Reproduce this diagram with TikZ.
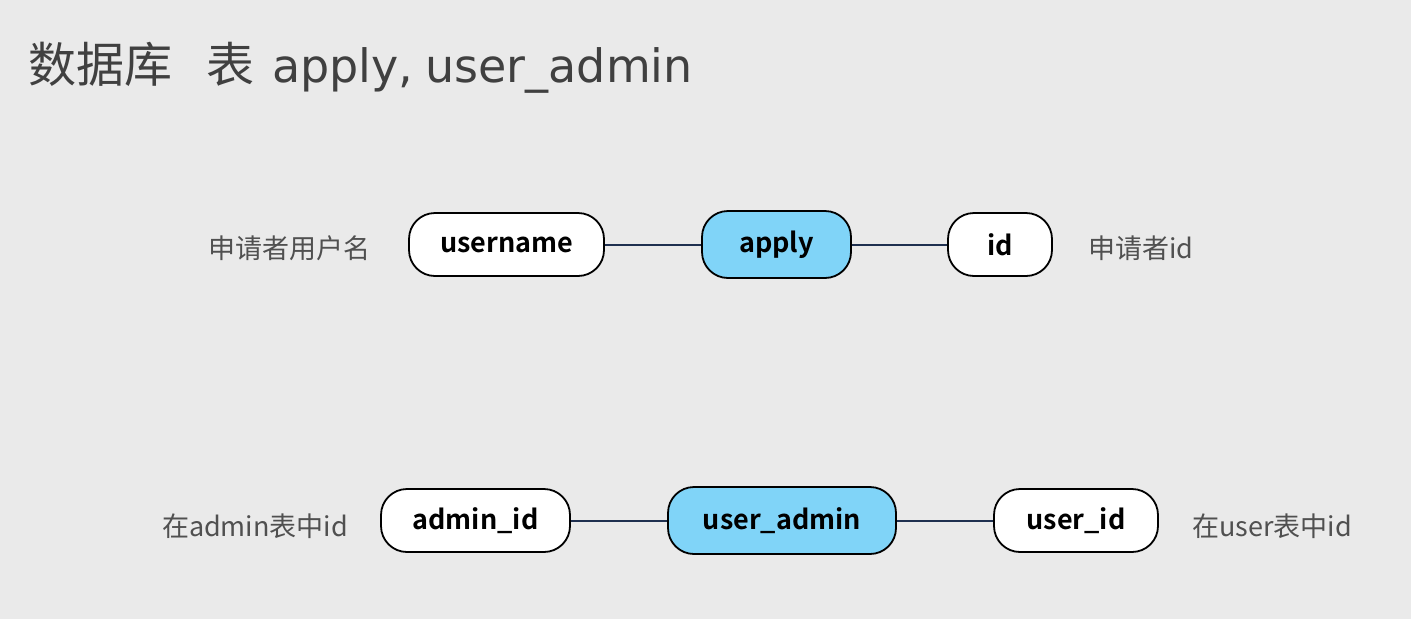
\documentclass[tikz,border=0pt]{standalone}
\usepackage{fontspec}
\setmainfont{Noto Sans CJK SC}
\newfontfamily\nodefont{Noto Sans CJK SC Bold}
\newfontfamily\latinfont{DejaVu Sans}
\definecolor{bg}{HTML}{EAEAEA}
\definecolor{titlec}{HTML}{404040}
\definecolor{labelc}{HTML}{505050}
\definecolor{linkc}{HTML}{1F3050}
\definecolor{hub}{HTML}{80D4F8}
\begin{document}
\begin{tikzpicture}[x=1pt,y=1pt,
  attr/.style={draw=black, line width=1.8pt, fill=white, rounded corners=26pt,
    inner sep=0pt, font=\nodefont\fontsize{27}{30}\selectfont, text=black},
  hubbox/.style={attr, fill=hub},
  note/.style={font=\fontsize{27}{30}\selectfont, text=labelc, inner sep=0pt},
  link/.style={draw=linkc, line width=2pt}]
\fill[bg] (0,0) rectangle (1411,-619);
\useasboundingbox (0,0) rectangle (1411,-619);
\node[anchor=base west, text=titlec, inner sep=0pt] (title) at (28,-82)
  {\fontsize{48}{52}\selectfont 数据库\hspace{34pt}表\hspace{18pt}{\latinfont\fontsize{46}{50}\selectfont apply,\hspace{12pt}user\_admin}};
% row 1
\node[attr, minimum width=195pt, minimum height=63pt] (username) at (506.5,-244.5) {username};
\node[hubbox, minimum width=149pt, minimum height=67pt] (apply) at (776.5,-244.5) {apply};
\node[attr, minimum width=104pt, minimum height=63pt] (id) at (1000,-244.5) {id};
\draw[link] (username) -- (apply);
\draw[link] (apply) -- (id);
\node[note] (n1) at (289,-248) {申请者用户名};
\node[note] (n2) at (1141,-248) {申请者id};
% row 2
\node[attr, minimum width=189pt, minimum height=63pt] (adminid) at (475.5,-520.5) {admin\_id};
\node[hubbox, minimum width=228pt, minimum height=67pt] (useradmin) at (782,-520.5) {user\_admin};
\node[attr, minimum width=164pt, minimum height=63pt] (userid) at (1076,-520.5) {user\_id};
\draw[link] (adminid) -- (useradmin);
\draw[link] (useradmin) -- (userid);
\node[note] (n3) at (255,-526) {在admin表中id};
\node[note] (n4) at (1272,-526) {在user表中id};
\end{tikzpicture}
\end{document}
